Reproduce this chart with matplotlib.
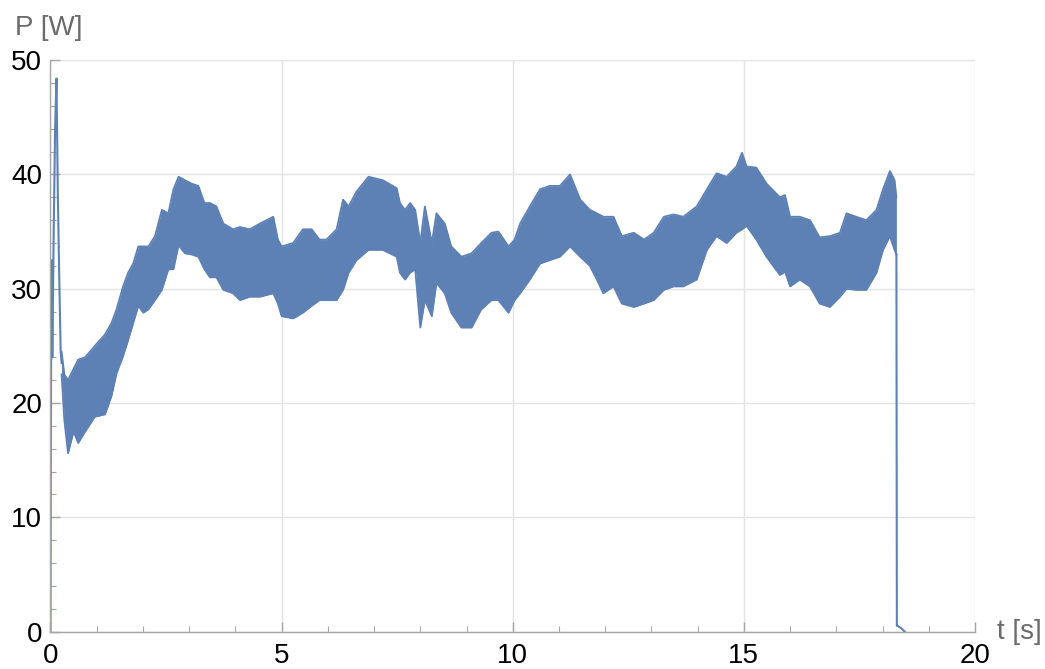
import matplotlib
matplotlib.use("Agg")
import matplotlib.pyplot as plt
from matplotlib.ticker import MultipleLocator

# start-up transient (single trace)
t_start = [0.0, 0.01, 0.025, 0.04, 0.07, 0.10, 0.13, 0.16, 0.19, 0.22, 0.24]
p_start = [0.0, 20.0, 32.5, 24.0, 35.0, 44.0, 48.4, 38.0, 31.0, 24.6, 23.5]

# envelope of the fast oscillation
t_env = [0.24, 0.30, 0.38, 0.50, 0.60, 0.75, 0.96, 1.18, 1.32, 1.43, 1.57, 1.68,
         1.79, 1.90, 2.01, 2.12, 2.26, 2.41, 2.55, 2.66, 2.77, 2.91, 3.05, 3.20,
         3.33, 3.45, 3.59, 3.74, 3.95, 4.10, 4.31, 4.53, 4.82, 4.92, 5.00, 5.25,
         5.46, 5.65, 5.82, 5.97, 6.19, 6.33, 6.45, 6.62, 6.88, 7.19, 7.49, 7.56,
         7.67, 7.78, 7.89, 8.00, 8.10, 8.25, 8.35, 8.53, 8.67, 8.89, 9.11, 9.32,
         9.54, 9.69, 9.91, 10.04, 10.16, 10.37, 10.59, 10.80, 11.02, 11.24, 11.46,
         11.67, 11.82, 11.96, 12.18, 12.36, 12.62, 12.84, 13.05, 13.27, 13.48,
         13.69, 13.98, 14.20, 14.41, 14.63, 14.84, 14.96, 15.06, 15.27, 15.49,
         15.78, 15.89, 16.00, 16.21, 16.43, 16.64, 16.86, 17.08, 17.22, 17.43,
         17.65, 17.87, 18.01, 18.16, 18.26, 18.30]
p_hi = [24.5, 22.5, 22.0, 23.0, 23.8, 24.0, 25.0, 26.0, 27.0, 28.2, 30.2, 31.4,
        32.2, 33.7, 33.7, 33.7, 34.6, 36.9, 36.6, 38.7, 39.8, 39.5, 39.2, 39.0,
        37.5, 37.5, 37.2, 35.7, 35.2, 35.4, 35.2, 35.7, 36.3, 34.3, 33.7, 34.0,
        35.2, 35.2, 34.3, 34.3, 35.2, 37.8, 37.2, 38.5, 39.8, 39.5, 38.8, 37.5,
        36.9, 37.5, 36.9, 34.0, 37.2, 34.0, 36.6, 35.7, 33.7, 32.8, 33.1, 34.0,
        34.9, 35.0, 33.7, 34.3, 35.7, 37.2, 38.7, 39.0, 39.0, 40.0, 37.8,
        36.9, 36.6, 36.3, 36.3, 34.6, 34.9, 34.3, 34.9, 36.3, 36.5,
        36.3, 37.2, 38.7, 40.1, 39.8, 40.7, 41.9, 40.7, 40.6, 39.2,
        38.0, 38.2, 36.3, 36.3, 36.0, 34.5, 34.6, 34.9, 36.6, 36.3,
        36.0, 36.9, 38.7, 40.3, 39.5, 38.0]
p_lo = [22.5, 18.5, 15.6, 17.5, 16.5, 17.5, 18.8, 19.0, 20.6, 22.6, 24.1, 25.5,
        27.0, 28.5, 27.9, 28.2, 29.0, 29.9, 31.7, 31.7, 33.8, 33.1, 33.0, 32.8,
        31.7, 31.0, 31.0, 29.9, 29.6, 29.0, 29.3, 29.3, 29.6, 28.7, 27.6, 27.4,
        27.9, 28.5, 29.0, 29.0, 29.0, 29.9, 31.4, 32.5, 33.4, 33.4, 32.8, 31.4,
        30.8, 31.4, 31.7, 26.6, 29.0, 27.6, 30.5, 29.6, 27.9, 26.6, 26.6, 28.2,
        29.0, 29.0, 27.9, 29.0, 29.6, 30.8, 32.2, 32.5, 32.8, 33.7, 32.8,
        32.0, 30.8, 29.6, 30.2, 28.7, 28.4, 28.7, 29.0, 29.9, 30.2,
        30.2, 30.8, 33.4, 34.6, 34.0, 34.9, 35.2, 35.5, 34.3, 32.8,
        31.2, 31.5, 30.2, 30.8, 30.2, 28.7, 28.4, 29.3, 30.0, 29.9,
        29.9, 31.4, 33.4, 34.6, 33.4, 33.0]

# switch-off and tail
t_end = [18.30, 18.31, 18.33, 18.40, 18.48]
p_end = [33.0, 0.5, 0.5, 0.3, 0.0]

LINE = "#5E81B5"
GRID = "#e3e3e3"
AXIS = "#a6a6a6"
LABEL = "#6b6b6b"

plt.rcParams["font.family"] = ["Liberation Sans", "DejaVu Sans"]

fig = plt.figure(figsize=(10.45, 6.69), dpi=100)
ax = fig.add_axes([0.0483, 0.056, 0.8847, 0.854])

ax.fill_between(t_env, p_lo, p_hi, color=LINE, linewidth=0, zorder=3)
ax.plot(t_env, p_hi, color=LINE, lw=1.3, zorder=3)
ax.plot(t_env, p_lo, color=LINE, lw=1.3, zorder=3)
ax.plot(t_start, p_start, color=LINE, lw=1.5, zorder=3)
ax.plot(t_end, p_end, color=LINE, lw=1.5, zorder=3)

ax.set_xlim(0, 20)
ax.set_ylim(0, 50)
ax.xaxis.set_major_locator(MultipleLocator(5))
ax.xaxis.set_minor_locator(MultipleLocator(1))
ax.yaxis.set_major_locator(MultipleLocator(10))
ax.yaxis.set_minor_locator(MultipleLocator(2))

ax.grid(True, which="major", color=GRID, lw=1.0, zorder=0)
for s in ["top", "right"]:
    ax.spines[s].set_visible(False)
for s in ["left", "bottom"]:
    ax.spines[s].set_color(AXIS)
    ax.spines[s].set_linewidth(1.0)
    ax.spines[s].set_zorder(4)

ax.tick_params(which="major", direction="in", length=7, width=1, color=AXIS,
               labelsize=20, labelcolor="black", pad=8)
ax.tick_params(which="minor", direction="in", length=4, width=0.8, color=AXIS)
ax.tick_params(axis="y", pad=6)
ax.set_xticks([0, 5, 10, 15, 20])
ax.set_xticklabels(["0", "5", "10", "15", "20"])

fig.text(15 / 1045, 1 - 28 / 669, "P [W]", fontsize=20, color=LABEL,
         ha="left", va="center")
fig.text(997 / 1045, 1 - 632 / 669, "t [s]", fontsize=20, color=LABEL,
         ha="left", va="center")

fig.savefig("out.png", dpi=100)
